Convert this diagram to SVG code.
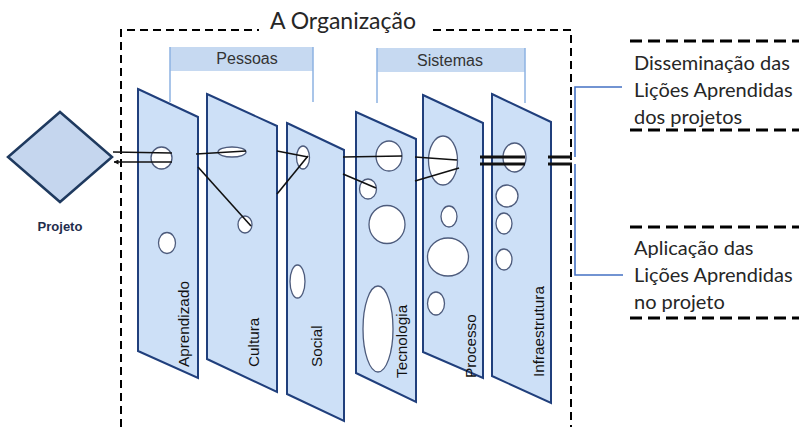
<svg xmlns="http://www.w3.org/2000/svg" width="799" height="427" viewBox="0 0 799 427">
<defs>
<style>
.panel{fill:#cde0f7;stroke:#203f7c;stroke-width:2;stroke-linejoin:miter}
.hole{fill:#ffffff;stroke:#4d5b7c;stroke-width:1.3}
.lbl{font-family:"Liberation Sans",Arial,sans-serif;font-size:15.3px;fill:#111111}
.hdr{fill:#c6d9f1}
.hdrline{stroke:#8db3e2;stroke-width:1.5;fill:none}
.hdrtxt{font-family:"Liberation Sans",Arial,sans-serif;font-size:16px;fill:#333333;text-anchor:middle}
.big{font-family:Lato,"Open Sans",sans-serif;fill:#262626}
.conn{stroke:#111111;stroke-width:1.6;fill:none}
.thick{stroke:#111111;stroke-width:3;fill:none}
.blue{stroke:#4472c4;stroke-width:1.6;fill:none}
.dash1{stroke:#000;stroke-width:2;stroke-dasharray:8 5;fill:none}
.dash2{stroke:#000;stroke-width:3;stroke-dasharray:12 6;fill:none}
</style>
<marker id="arr" viewBox="0 0 10 10" refX="9" refY="5" markerWidth="5" markerHeight="5" orient="auto" markerUnits="userSpaceOnUse">
<path d="M0,0 L10,5 L0,10 z" fill="#111"/>
</marker>
</defs>
<rect width="799" height="427" fill="#ffffff"/>

<g id="organizacao">
<path class="dash1" d="M121,427 L121,30 L259,30"/>
<path class="dash1" d="M433,30 L571,30 L571,427"/>
<text class="big" x="270" y="29" font-size="23">A Organização</text>
</g>

<g id="pessoas">
<rect class="hdr" x="170" y="47" width="143" height="24"/>
<path class="hdrline" d="M170,102 L170,47 M313,47 L313,102"/>
<text class="hdrtxt" x="247" y="64">Pessoas</text>
</g>

<g id="sistemas">
<rect class="hdr" x="377" y="48" width="148" height="24"/>
<path class="hdrline" d="M377,103 L377,48 M525,48 L525,103"/>
<text class="hdrtxt" x="450" y="65.5">Sistemas</text>
</g>

<g id="projeto">
<polygon points="60,112 112,157 60,202 8,157" fill="#c5d6ee" stroke="#1f3a5f" stroke-width="2.5" stroke-linejoin="miter"/>
<text x="60" y="231" text-anchor="middle" font-family="Liberation Sans,Arial,sans-serif" font-size="13" font-weight="bold" fill="#1f2d4d">Projeto</text>
</g>

<g id="aprendizado">
<polygon class="panel" points="138,89 198,117 198,378 138,351"/>
<ellipse class="hole" cx="161.5" cy="158" rx="10.5" ry="11"/>
<ellipse class="hole" cx="167" cy="243" rx="8.5" ry="10.5"/>
<text class="lbl" transform="translate(189,367) rotate(-90)">Aprendizado</text>
</g>

<g id="cultura">
<polygon class="panel" points="207,94 277,126 277,392 207,359"/>
<ellipse class="hole" cx="232" cy="152" rx="14" ry="5"/>
<ellipse class="hole" cx="245" cy="224.5" rx="7" ry="8.5"/>
<text class="lbl" transform="translate(259,367) rotate(-90)">Cultura</text>
</g>

<g id="social">
<polygon class="panel" points="287,123 344,150 344,421 287,394"/>
<ellipse class="hole" cx="303" cy="157.5" rx="6.5" ry="11.5"/>
<ellipse class="hole" cx="297.5" cy="281.5" rx="7.5" ry="16.5"/>
<text class="lbl" transform="translate(322,367) rotate(-90)">Social</text>
</g>

<g id="tecnologia">
<polygon class="panel" points="356,112 416,139 416,402 356,373"/>
<ellipse class="hole" cx="389" cy="156" rx="13" ry="15"/>
<ellipse class="hole" cx="368" cy="189" rx="8.5" ry="10"/>
<ellipse class="hole" cx="387" cy="224.5" rx="18" ry="19"/>
<ellipse class="hole" cx="378" cy="329" rx="15" ry="43"/>
<text class="lbl" transform="translate(407,378) rotate(-90)">Tecnologia</text>
</g>

<g id="processo">
<polygon class="panel" points="423,95 483,123 483,378 423,352"/>
<ellipse class="hole" cx="443" cy="160.5" rx="14.5" ry="24.5"/>
<ellipse class="hole" cx="449" cy="216.5" rx="8" ry="10.5"/>
<ellipse class="hole" cx="448" cy="257" rx="20.5" ry="19"/>
<ellipse class="hole" cx="436" cy="303.5" rx="8.5" ry="11.5"/>
<text class="lbl" transform="translate(476,378) rotate(-90)">Processo</text>
</g>

<g id="infraestrutura">
<polygon class="panel" points="492,94 551,122 551,403 492,376"/>
<ellipse class="hole" cx="514.5" cy="157.5" rx="11.5" ry="14.5"/>
<ellipse class="hole" cx="507" cy="196" rx="11" ry="11"/>
<ellipse class="hole" cx="504" cy="223.5" rx="8" ry="10.5"/>
<ellipse class="hole" cx="504" cy="259.5" rx="8" ry="10.5"/>
<text class="lbl" transform="translate(544,377) rotate(-90)">Infraestrutura</text>
</g>

<g id="disseminacao">
<path class="dash2" d="M630,41 L799,41 M630,130 L799,130"/>
<text class="big" font-size="20"><tspan x="634" y="70">Disseminação das</tspan><tspan x="634" y="97">Lições Aprendidas</tspan><tspan x="634" y="124">dos projetos</tspan></text>
</g>

<g id="aplicacao">
<path class="dash2" d="M630,227 L799,227 M630,318 L799,318"/>
<text class="big" font-size="20"><tspan x="634" y="255">Aplicação das</tspan><tspan x="634" y="282">Lições Aprendidas</tspan><tspan x="634" y="309">no projeto</tspan></text>
</g>

<g id="connectors">
<path class="conn" d="M113,152 L172,153"/>
<path class="conn" d="M172,162 L114,162" marker-end="url(#arr)"/>
<path class="conn" d="M196,154 L246,151"/>
<path class="conn" d="M198,167 L251,226"/>
<path class="conn" d="M277,151 L308,157"/>
<path class="conn" d="M277,194 L308,156"/>
<path class="conn" d="M343,157 L402,156"/>
<path class="conn" d="M343,174 L376,188"/>
<path class="conn" d="M415,157 L457,160"/>
<path class="conn" d="M415,181 L459,168"/>
<path class="thick" d="M480,157 L525,157 M480,164 L525,164"/>
<path class="thick" d="M548,157 L572,157 M548,164 L572,164"/>
<path class="blue" d="M622,87 L575,87 L575,157"/>
<path class="blue" d="M575,164 L575,275 L623,275"/>
</g>
</svg>
